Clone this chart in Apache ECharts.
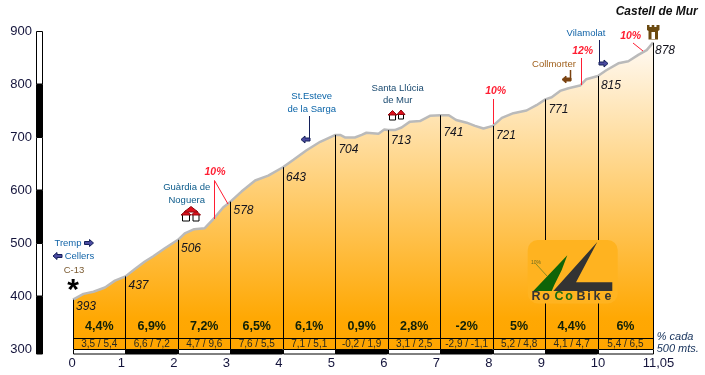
<!DOCTYPE html>
<html><head><meta charset="utf-8">
<style>html,body{margin:0;padding:0;background:#fff}#c{width:705px;height:375px}</style>
<script src="https://cdn.jsdelivr.net/npm/echarts@6/dist/echarts.min.js"></script>
</head><body><div id="c"></div>
<script>
// ---- data ----
const profileKm = [0,.2,.39,.61,.8,1,1.18,1.37,1.53,1.75,2,2.13,2.31,2.51,2.7,2.86,3,3.21,3.47,3.72,4,4.2,4.45,4.71,5,5.09,5.19,5.37,5.5,5.59,5.82,5.93,6,6.13,6.26,6.42,6.61,6.8,7,7.16,7.3,7.5,7.66,7.82,8,8.17,8.39,8.64,8.83,9,9.12,9.28,9.44,9.66,9.78,10,10.16,10.39,10.58,10.77,10.93,11.05];
const profileElev = [393,404,408,416,429,437,451,465,475,490,506,518,526,528,548,567,578,597,618,627,643,657,675,691,704,704,699,699,704,708,706,714,713,713,718,729,730,740,741,741,732,727,721,716,721,736,745,750,760,771,775,787,792,797,809,815,826,839,843,855,864,878];
const markKm = [0,1,2,3,4,5,6,7,8,9,10,11.05];
const markElev = [393,437,506,578,643,704,713,741,721,771,815,878];
const slopeLabels = ['4,4%','6,9%','7,2%','6,5%','6,1%','0,9%','2,8%','-2%','5%','4,4%','6%'];
const halfKmLabels = ['3,5 / 5,4','6,6 / 7,2','4,7 / 9,6','7,6 / 5,5','7,1 / 5,1','-0,2 / 1,9','3,1 / 2,5','-2,9 / -1,1','5,2 / 4,8','4,1 / 4,7','5,4 / 6,5'];
const elevTicks = [300,400,500,600,700,800,900];
const tableRuleElev = 320.7, slopeTextElev = 342, halfKmTextElev = 309.5;

// ---- layout only ----
const FONT = '"Liberation Sans", Arial, sans-serif';
const elevLabelNudge = [[3,7],[3,9],[3,9],[3,9],[3,10],[3,15],[3,11],[3,17],[3,10],[3,10],[3,10],[2,8]];
const NAVY = '#14205a', BLUE = '#1264a8', RED = '#ff1e32', BROWN = '#7a4210';

const sp = v => Math.round(v) + .5;
function vline(x, y0, y1, stroke, w) {
  return {type:'line', shape:{x1:x,y1:y0,x2:x,y2:y1}, style:{stroke:stroke||'#000', lineWidth:w||1}};
}
const gText = (text, x, y, o) => Object.assign({type:'text', z:100, x, y,
  style:Object.assign({text, font:'9.5px '+FONT, fill:BLUE, align:'center', verticalAlign:'middle'}, o||{})});
const gLine = (pts, stroke, w) => ({type:'polyline', z:100, shape:{points:pts}, style:{stroke, lineWidth:w||1, fill:null}});
const gPoly = (pts, fill, stroke) => ({type:'polygon', z:100, shape:{points:pts}, style:{fill, stroke:stroke||null, lineWidth:stroke?1:0}});
function block(x, y, dir, fill, stroke) { // x = tip
  const d = dir;
  return gPoly([[x,y],[x-d*4,y-3.5],[x-d*4,y-1.5],[x-d*9,y-1.5],[x-d*9,y+1.5],[x-d*4,y+1.5],[x-d*4,y+3.5]], fill, stroke);
}
function house(x, y, w, h) {
  return [
    {type:'rect', z:100, shape:{x:x-w/2,y:y,width:w,height:h}, style:{fill:'#fff',stroke:'#000',lineWidth:1}},
    gPoly([[x-w/2-1.5,y+.5],[x,y-4],[x+w/2+1.5,y+.5]], '#e0101c', '#8a0a10')
  ];
}
const logoLetters = [['R',536,'#333'],['o',546,'#333'],['C',559,'#1a6a10'],['o',569,'#1a6a10'],['B',581,'#333'],['i',589,'#333'],['k',597,'#333'],['e',608,'#333']];

const decorations = [
  gText('Tremp',68,243), block(93.5,243,1,'#4a4aa0',NAVY),
  gText('Cellers',79.5,256), block(53,256,-1,'#4a4aa0',NAVY),
  gText('C-13',74,270.5,{fill:'#7a5a30'}),
  gText('*',73,291,{font:'bold 30px '+FONT,fill:'#000'}),
  gText('Guàrdia de',186.7,187.7,{fill:'#0a5a8a'}), gText('Noguera',186.7,200,{fill:'#0a5a8a'}),
  ...house(186,214.5,7,6.5), ...house(196,214.5,6,6.5),
  gPoly([[184,212],[191,206.5],[198,212]],'#e0101c','#8a0a10'),
  gText('10%',215,172,{font:'italic bold 10.5px '+FONT,fill:RED}),
  gLine([[214.5,219],[214.5,180.5],[228,204]],RED),
  gText('St.Esteve',311.7,96.7,{fill:'#0a64a8'}), gText('de la Sarga',311.7,109,{fill:'#0a64a8'}),
  gLine([[309.5,116],[309.5,139.5],[306,139.5]],NAVY), block(301,139.5,-1,'#4a4aa0',NAVY),
  gText('Santa Llúcia',397.7,88,{fill:'#1a4a70'}), gText('de Mur',397.7,100.7,{fill:'#1a4a70'}),
  ...house(392.5,114.5,6,5.5), ...house(401,114,5,5),
  gText('10%',495.7,91,{font:'italic bold 10.5px '+FONT,fill:RED}),
  gLine([[493.5,99],[493.5,124]],RED),
  gText('Vilamolat',586,33.7,{fill:'#1264a8'}),
  gLine([[599.5,40],[599.5,63.5],[603,63.5]],NAVY), block(608,63.5,1,'#4a4aa0',NAVY),
  gText('Collmorter',554,64,{fill:'#a0601c'}),
  gLine([[570.5,70],[570.5,79.5],[565,79.5]],BROWN,1.5), block(562,79.5,-1,BROWN,BROWN),
  gText('12%',582.7,51,{font:'italic bold 10.5px '+FONT,fill:RED}),
  gLine([[581.5,58],[581.5,85]],RED),
  gText('10%',630.7,36,{font:'italic bold 10.5px '+FONT,fill:RED}),
  gLine([[633,43],[643,51]],RED),
  gText('Castell de Mur',656.7,12,{font:'italic bold 12px '+FONT,fill:'#101010'}),
  gPoly([[647,25],[649.5,25],[649.5,27],[651.7,27],[651.7,25],[654.3,25],[654.3,27],[656.5,27],[656.5,25],[659.5,25],[659.5,30],[658,31],[658,39.5],[648.5,39.5],[648.5,31],[647,30]],'#6b4a10'),
  {type:'rect', z:100, shape:{x:651.5,y:32,width:3.5,height:7}, style:{fill:'#fff'}},
  gText('% cada',656.7,337,{font:'italic 11px '+FONT,fill:'#14305a',align:'left'}),
  gText('500 mts.',656.7,349,{font:'italic 11px '+FONT,fill:'#14305a',align:'left'}),
  // RoCoBike badge
  {type:'rect', z:100, shape:{x:527.7,y:240,width:90,height:63.5,r:10}, style:{fill:'#ffb320'}},
  gPoly([[597.3,242],[553.3,291],[612.3,291],[612.3,282.3],[576,282.3]],'#333333'),
  gPoly([[567.3,255.3],[561.7,270],[554.3,285],[551.7,291],[533.3,291]],'#0f6408'),
  gLine([[536,264],[547,276]],'#8a8a20'),
  gText('10%',536,263,{font:'5px '+FONT,fill:'#6a6a20'}),
  ...logoLetters.map(l => gText(l[0],l[1],297,{font:'bold 12.5px '+FONT,fill:l[2]}))
];

const gridLeft = 73;
const xRich = {n:{padding:[0,8,0,0]},z:{padding:[0,2,0,0]},t:{padding:[0,0,0,0]},e:{padding:[0,0,0,11]}};
Object.values(xRich).forEach(s=>{s.fontSize=13;s.fontFamily=FONT;s.color='#14143c';});

const option = {
  animation:false,
  backgroundColor:'#fff',
  textStyle:{fontFamily:FONT},
  grid:{left:gridLeft,right:52,top:31,bottom:26,containLabel:false},
  xAxis:{type:'value',min:0,max:11.05,
    axisLine:{show:false},axisTick:{show:false},splitLine:{show:false},
    axisLabel:{customValues:markKm,margin:8,hideOverlap:false,alignMinLabel:'center',alignMaxLabel:'center',
      formatter:v=>{const s=String(v).replace('.',',');
        const k=v===0?'z':v===10?'t':v===11.05?'e':'n';return '{'+k+'|'+s+'}';},rich:xRich}},
  yAxis:{type:'value',min:300,max:900,interval:100,
    axisLine:{show:false},axisTick:{show:false},splitLine:{show:false},
    axisLabel:{margin:41,fontSize:13,fontFamily:FONT,color:'#14143c'}},
  series:[
    {type:'line',name:'Perfil',data:profileKm.map((k,i)=>[k,profileElev[i]]),showSymbol:false,z:2,
      lineStyle:{color:'#bababa',width:2.5},
      areaStyle:{opacity:1,origin:'start',color:new echarts.graphic.LinearGradient(0,0,0,1,[
        {offset:0,color:'#fffaf4'},{offset:.9,color:'#ffa803'},{offset:1,color:'#ffa500'}])}},
    // km uprights
    {type:'custom',z:4,clip:false,data:markKm.map((k,i)=>[k,markElev[i]]),
      renderItem:(p,api)=>{const a=api.coord([api.value(0),api.value(1)]),b=api.coord([api.value(0),300]);
        return {type:'line',shape:{x1:sp(a[0]),y1:a[1],x2:sp(a[0]),y2:b[1]},style:{stroke:'#000',lineWidth:1}};}},
    // table rule
    {type:'custom',z:4,clip:false,data:[[0,tableRuleElev,11.05]],
      renderItem:(p,api)=>{const a=api.coord([api.value(0),api.value(1)]),b=api.coord([api.value(2),api.value(1)]);
        return {type:'line',shape:{x1:a[0],y1:sp(a[1]),x2:b[0],y2:sp(a[1])},style:{stroke:'#000',lineWidth:1}};}},
    // km strip under the axis
    {type:'custom',z:5,clip:false,data:markKm.slice(0,-1).map((k,i)=>[k,markKm[i+1],i]),
      renderItem:(p,api)=>{const a=api.coord([api.value(0),300]),b=api.coord([api.value(1),300]);
        const black=api.value(2)%2===1;
        return {type:'rect',shape:{x:Math.round(a[0])+.5,y:Math.round(a[1])+.5,width:Math.round(b[0]-a[0]),height:4.5},
          style:{fill:black?'#000':'#fff',stroke:'#000',lineWidth:1}};}},
    // elevation strip beside the axis
    {type:'custom',z:5,clip:false,data:elevTicks.slice(0,-1).map((v,i)=>[0,v,elevTicks[i+1],i]),
      renderItem:(p,api)=>{const a=api.coord([0,api.value(1)]),b=api.coord([0,api.value(2)]);
        const black=api.value(3)%2===0, ext=api.value(3)===0?5:0;
        return {type:'rect',shape:{x:gridLeft-36.5,y:Math.round(b[1])+.5,width:6,height:Math.round(a[1]-b[1])+ext-.5},
          style:{fill:black?'#000':'#fff',stroke:'#000',lineWidth:1}};}},
    // elevation labels
    {type:'custom',z:6,clip:false,data:markKm.map((k,i)=>[k,markElev[i],i]),
      renderItem:(p,api)=>{const i=api.value(2),a=api.coord([api.value(0),api.value(1)]);
        return {type:'text',x:a[0]+elevLabelNudge[i][0],y:a[1]+elevLabelNudge[i][1],
          style:{text:String(markElev[i]),font:'italic 12px '+FONT,fill:'#14141e',align:'left',verticalAlign:'middle'}};}},
    // slope %
    {type:'custom',z:6,clip:false,data:slopeLabels.map((s,i)=>[(markKm[i]+markKm[i+1])/2,slopeTextElev,i]),
      renderItem:(p,api)=>{const a=api.coord([api.value(0),api.value(1)]);
        return {type:'text',x:a[0],y:a[1],style:{text:slopeLabels[api.value(2)],font:'bold 12.5px '+FONT,fill:'#102008',align:'center',verticalAlign:'middle'}};}},
    // per-500 m slopes
    {type:'custom',z:6,clip:false,data:halfKmLabels.map((s,i)=>[(markKm[i]+markKm[i+1])/2,halfKmTextElev,i]),
      renderItem:(p,api)=>{const a=api.coord([api.value(0),api.value(1)]);
        return {type:'text',x:a[0],y:a[1],style:{text:halfKmLabels[api.value(2)],font:'10px '+FONT,fill:'#2a2a20',align:'center',verticalAlign:'middle'}};}}
  ],
  graphic:{elements:decorations}
};
echarts.init(document.getElementById('c'),null,{renderer:'canvas'}).setOption(option);
</script></body></html>
